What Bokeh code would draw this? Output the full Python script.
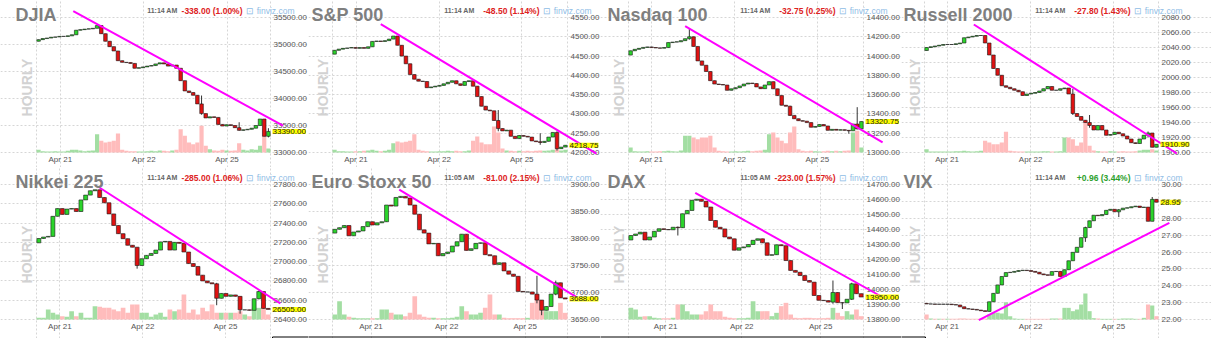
import math
from bokeh.plotting import figure
from bokeh.layouts import column, row
from bokeh.models import (Range1d, FixedTicker, NumeralTickFormatter, Label, Arrow,
                          BoxAnnotation, ColumnDataSource)
from bokeh.embed import file_html
from bokeh.resources import INLINE

# ---------------- data ----------------
day_labels = ["Apr 21", "Apr 22", "Apr 25"]

djia_open0 = 35060
djia_close = [35090, 35110, 35120, 35135, 35140, 35150, 35150, 35160, 35180, 35265,
              35275, 35285, 35290, 35300, 35350, 35200, 35060, 34960, 34880, 34700,
              34670, 34665, 34650, 34560, 34570, 34585, 34600, 34610, 34640, 34660,
              34640, 34600, 34620, 34560, 34330, 34140, 34110, 34060, 33900, 33720,
              33640, 33660, 33650, 33520, 33490, 33515, 33500, 33460, 33410, 33420,
              33430, 33450, 33500, 33620, 33300, 33390]
djia_volume = [8, 4, 3, 3, 4, 3, 3, 5, 8, 8,
               6, 4, 5, 6, 55, 35, 30, 32, 35, 57,
               8, 5, 4, 4, 3, 3, 4, 5, 4, 6,
               5, 4, 6, 8, 70, 50, 30, 25, 30, 80,
               20, 10, 6, 5, 8, 6, 5, 6, 28, 8,
               6, 10, 8, 20, 70, 12]
djia_wicks = {39: (34055, 33700), 48: (33560, 33405), 55: (33450, 33280)}
djia_days = [5.2, 25.2, 45.1]
djia_yticks = [33000, 33500, 34000, 34500, 35000, 35500]
djia_trend = [(8.3, 35618), (58.5, 33496)]

sp_open0 = 4455
sp_close = [4465, 4468, 4470, 4471, 4472, 4470, 4472, 4470, 4474, 4488,
            4489, 4488, 4490, 4494, 4502, 4478, 4450, 4430, 4402, 4390,
            4385, 4384, 4368, 4370, 4372, 4374, 4378, 4382, 4386, 4378,
            4374, 4384, 4386, 4372, 4345, 4320, 4310, 4308, 4283, 4262,
            4256, 4258, 4242, 4236, 4244, 4242, 4240, 4230, 4228, 4226,
            4229, 4240, 4252, 4210, 4214, 4218.75]
sp_volume = [8, 4, 4, 3, 3, 4, 4, 5, 6, 8,
             5, 4, 5, 8, 28, 33, 30, 32, 35, 55,
             8, 5, 4, 3, 3, 4, 4, 5, 4, 5,
             4, 4, 6, 35, 48, 30, 25, 25, 78, 60,
             12, 6, 5, 4, 5, 4, 5, 4, 5, 6,
             5, 6, 8, 10, 6, 8]
sp_wicks = {39: (4310, 4255), 49: (4250, 4220), 53: (4255, 4205)}
sp_days = [5.1, 24.9, 44.6]
sp_yticks = [4200, 4250, 4300, 4350, 4400, 4450, 4500, 4550]
sp_trend = [(11.0, 4533), (62.4, 4197)]

nq_open0 = 14010
nq_close = [14055, 14070, 14080, 14090, 14095, 14088, 14085, 14082, 14088, 14140,
            14145, 14148, 14160, 14180, 14200, 14100, 13950, 13905, 13840, 13745,
            13710, 13705, 13700, 13645, 13660, 13672, 13690, 13710, 13720, 13715,
            13680, 13662, 13700, 13735, 13660, 13590, 13490, 13480, 13385, 13350,
            13330, 13325, 13310, 13262, 13270, 13290, 13275, 13230, 13240, 13232,
            13236, 13230, 13225, 13295, 13245, 13320.75]
nq_volume = [15, 4, 3, 3, 4, 3, 3, 4, 4, 5,
             4, 3, 6, 50, 50, 45, 40, 45, 45, 50,
             15, 5, 4, 3, 3, 4, 3, 4, 5, 4,
             5, 6, 8, 55, 60, 45, 35, 28, 60, 78,
             10, 5, 4, 5, 4, 3, 4, 5, 4, 5,
             4, 5, 6, 60, 65, 15]
nq_wicks = {14: (14285, 14170), 38: (13485, 13380), 52: (13230, 13195), 54: (13470, 13240)}
nq_days = [4.9, 24.7, 44.5]
nq_yticks = [13000, 13200, 13400, 13600, 13800, 14000, 14200, 14400]
nq_trend = [(13.0, 14310), (60.05, 13105)]

rut_open0 = 2036
rut_close = [2040, 2041, 2042, 2043, 2044, 2044, 2044, 2045, 2046, 2053,
             2054, 2055, 2056, 2056, 2046, 2030, 2012, 2003, 1989, 1987,
             1985, 1983, 1981, 1976, 1978, 1979, 1980, 1982, 1985, 1988,
             1983, 1983, 1985, 1986, 1978, 1952, 1948, 1943, 1940, 1936,
             1930, 1936, 1930, 1923, 1924, 1927, 1925, 1922, 1918, 1913,
             1912, 1918, 1923, 1926, 1907, 1910.90]
rut_volume = [10, 3, 3, 3, 3, 3, 3, 4, 4, 5,
              4, 3, 4, 5, 35, 30, 25, 25, 30, 62,
              5, 4, 3, 3, 3, 3, 3, 3, 4, 4,
              3, 3, 4, 45, 45, 40, 20, 30, 90, 20,
              6, 4, 3, 3, 4, 3, 3, 4, 3, 3,
              4, 6, 8, 8, 10, 6]
rut_wicks = {35: (1985, 1950), 39: (1950, 1933), 53: (1928, 1920)}
rut_days = [4.9, 24.9, 44.7]
rut_yticks = [1900, 1920, 1940, 1960, 1980, 2000, 2020, 2040, 2060, 2080]
rut_trend = [(11.3, 2070.7), (59.9, 1898.7)]

nikkei_open0 = 27195
nikkei_close = [27240, 27255, 27262, 27470, 27550, 27490, 27545, 27550, 27520, 27640,
                27690, 27735, 27745, 27665, 27610, 27495, 27375, 27290, 27238, 27170,
                27150, 26960, 27030, 27065, 27085, 27120, 27205, 27210, 27120, 27200,
                27190, 27100, 26980, 26950, 26860, 26800, 26780, 26770, 26620, 26670,
                26640, 26655, 26640, 26500, 26500, 26495, 26615, 26690, 26515, 26505]
nikkei_volume = [5, 5, 30, 20, 15, 10, 8, 25, 10, 20,
                 5, 5, 40, 38, 35, 35, 30, 25, 35, 20,
                 45, 45, 20, 20, 8, 15, 20, 8, 30, 25,
                 30, 75, 20, 30, 15, 35, 25, 45, 20, 20,
                 20, 20, 20, 25, 15, 10, 35, 35, 50, 15]
nikkei_wicks = {21: (27150, 26927), 38: (26780, 26548), 43: (26640, 26460), 47: (26700, 26610)}
nikkei_days = [4.5, 22.2, 39.9]
nikkei_yticks = [26400, 26600, 26800, 27000, 27200, 27400, 27600, 27800]
nikkei_trend = [(13.0, 27766), (51.6, 26566)]

stoxx_open0 = 3810
stoxx_close = [3817, 3820, 3824, 3805, 3812, 3814, 3822, 3831, 3825, 3829,
               3831, 3862, 3860, 3876, 3878, 3875, 3862, 3845, 3816, 3810,
               3790, 3791, 3768, 3772, 3775, 3786, 3794, 3808, 3778, 3781,
               3791, 3792, 3770, 3768, 3752, 3755, 3740, 3734, 3730, 3702,
               3701, 3701, 3697, 3686, 3667, 3674, 3697, 3718, 3690, 3688]
stoxx_volume = [15, 55, 15, 8, 5, 4, 4, 4, 4, 4,
                30, 30, 20, 15, 15, 10, 20, 70, 15, 8,
                5, 5, 4, 4, 4, 5, 8, 40, 25, 15,
                15, 20, 35, 75, 15, 15, 5, 4, 4, 4,
                4, 5, 50, 75, 25, 25, 25, 25, 50, 20]
stoxx_wicks = {43: (3731, 3680), 44: (3686, 3658), 47: (3722, 3695)}
stoxx_days = [7.7, 23.8, 40.5]
stoxx_yticks = [3650, 3700, 3750, 3800, 3850, 3900]
stoxx_trend = [(13.7, 3890.7), (52.3, 3687)]

dax_open0 = 14330
dax_close = [14360, 14370, 14382, 14330, 14350, 14388, 14405, 14400, 14398, 14415,
             14412, 14505, 14527, 14595, 14602, 14588, 14550, 14460, 14415, 14404,
             14350, 14338, 14262, 14278, 14284, 14300, 14328, 14338, 14311, 14228,
             14232, 14298, 14292, 14193, 14127, 14115, 14093, 14060, 14049, 13960,
             13928, 13926, 13916, 13980, 13912, 13911, 13935, 14038, 13972, 13950]
dax_volume = [35, 30, 8, 10, 10, 5, 4, 4, 4, 5,
              45, 45, 25, 15, 15, 15, 25, 45, 25, 25,
              8, 5, 4, 4, 4, 5, 55, 25, 25, 25,
              10, 20, 40, 50, 15, 5, 4, 5, 5, 4,
              4, 4, 5, 35, 20, 10, 25, 15, 30, 10]
dax_wicks = {10: (14420, 14360), 43: (14060, 13905), 45: (13915, 13870), 47: (14045, 13930)}
dax_days = [7.4, 23.6, 40.4]
dax_yticks = [13800, 13900, 14000, 14100, 14200, 14300, 14400, 14500, 14600, 14700]
dax_trend = [(13.7, 14644), (52.9, 13960)]

vix_open0 = 22.95
vix_close = [22.92, 22.92, 22.90, 22.91, 22.90, 22.91, 22.88, 22.86, 22.75, 22.64,
             22.62, 22.60, 22.56, 22.52, 22.48, 23.05, 23.55, 24.05, 24.55, 24.78,
             24.80, 24.85, 24.90, 24.92, 24.90, 24.85, 24.80, 24.70, 24.65, 24.62,
             24.84, 24.85, 24.55, 24.95, 25.48, 25.98, 26.28, 26.85, 27.45, 27.85,
             28.18, 28.15, 28.22, 28.47, 28.53, 28.38, 28.50, 28.60, 28.62, 28.68,
             28.72, 28.64, 28.66, 27.82, 29.12, 28.95]
vix_volume = [15, 3, 2, 2, 2, 2, 2, 2, 3, 3,
              2, 2, 2, 2, 3, 15, 20, 20, 18, 52,
              10, 3, 2, 2, 2, 2, 2, 2, 2, 2,
              3, 3, 3, 35, 35, 25, 30, 45, 78, 25,
              4, 3, 2, 2, 2, 2, 2, 3, 3, 3,
              2, 2, 5, 45, 42, 10]
vix_wicks = {38: (27.5, 26.6), 46: (28.55, 28.07), 54: (29.26, 27.82)}
vix_days = [4.9, 24.9, 44.7]
vix_yticks = [22, 23, 24, 25, 26, 27, 28, 29, 30]
vix_trend = [(12.5, 21.96), (58.1, 27.73)]

panel_names = ["DJIA", "S&P 500", "Nasdaq 100", "Russell 2000",
               "Nikkei 225", "Euro Stoxx 50", "DAX", "VIX"]
update_times = ["11:14 AM", "11:14 AM", "11:14 AM", "11:14 AM",
                "11:14 AM", "11:05 AM", "11:05 AM", "11:14 AM"]
change_texts = ["-338.00 (1.00%)", "-48.50 (1.14%)", "-32.75 (0.25%)", "-27.80 (1.43%)",
                "-285.00 (1.06%)", "-81.00 (2.15%)", "-223.00 (1.57%)", "+0.96 (3.44%)"]
last_texts = ["33390.00", "4218.75", "13320.75", "1910.90",
              "26505.00", "3688.00", "13950.00", "28.95"]

# ---------------- layout / styling ----------------
FONT = "Liberation Sans"
COL_W = [308, 292, 301, 310]                                # canvas widths of the 4 columns
COL_X0 = [0, 308, 600, 901]                                 # canvas left edges in the page
COL_PLOT = [(36, 270), (24, 259), (28, 263), (23, 257)]     # plot area (left, right) per canvas
ROW_H = [167, 171]
PLOT_T, PLOT_B = 17, 152                # plot area top/bottom in each canvas
VOL_SPAN = 405.0
BOX_X0, BOX_X1, BOX_Y = 272, 925, 169   # framed box peeking in at the bottom (lower row)
GREEN, RED = "#2bd42b", "#e01212"
VGREEN, VRED = "#a3dea3", "#ffbcbc"
GRID = "#d6d6d6"


def panel(k, open0, closes, vols, wicks, days, yticks, trend):
    col, rw = k % 4, k // 4
    W, H = COL_W[col], ROW_H[rw]
    L, R = COL_PLOT[col]
    n = len(closes)
    opens = [open0] + list(closes[:-1])
    highs = [max(o, c) for o, c in zip(opens, closes)]
    lows = [min(o, c) for o, c in zip(opens, closes)]
    for i, (h, l) in wicks.items():
        highs[i] = max(highs[i], h)
        lows[i] = min(lows[i], l)
    up = [c >= o for o, c in zip(opens, closes)]
    src = ColumnDataSource(dict(
        x=list(range(n)),
        bt=[max(o, c) for o, c in zip(opens, closes)],
        bb=[min(o, c) for o, c in zip(opens, closes)],
        h=highs, l=lows, v=vols[:n],
        cc=[GREEN if u else RED for u in up],
        vc=[VGREEN if u else VRED for u in up],
    ))
    ymin, ymax = yticks[0], yticks[-1]
    ux = (R - L) / n                       # px per candle
    uy = (PLOT_B - PLOT_T) / (ymax - ymin)  # px per price unit
    uv = (PLOT_B - PLOT_T) / VOL_SPAN
    x_rng = Range1d(-0.5 - L / ux, n - 0.5 + (W - R) / ux)
    y_rng = Range1d(ymin - (H - PLOT_B) / uy, ymax + PLOT_T / uy)

    p = figure(width=W, height=H, x_range=x_rng, y_range=y_rng,
               y_axis_location="right", output_backend="svg",
               toolbar_location=None, tools="", min_border=0,
               background_fill_color="white", border_fill_color="white")
    p.title.visible = False
    p.outline_line_color = None
    p.extra_y_ranges = {"vol": Range1d(-(H - PLOT_B) / uv, VOL_SPAN + PLOT_T / uv)}

    # axes pinned to the plot-area edges
    yax = p.yaxis[0]
    yax.fixed_location = n - 0.5
    yax.ticker = FixedTicker(ticks=yticks)
    yax.formatter = NumeralTickFormatter(format="0.00")
    xax = p.xaxis[0]
    xax.fixed_location = ymin
    xax.ticker = FixedTicker(ticks=days)
    xax.major_label_overrides = {d: lab for d, lab in zip(days, day_labels)}
    for ax, st in ((yax, 3), (xax, 2)):
        ax.axis_line_color = None
        ax.major_tick_line_color = None
        ax.minor_tick_line_color = None
        ax.major_tick_out = 0
        ax.major_tick_in = 0
        ax.minor_tick_out = 0
        ax.major_label_standoff = st
        ax.major_label_text_font = FONT
        ax.major_label_text_font_size = "8px"
        ax.major_label_text_color = "#555555"

    p.xgrid.ticker = FixedTicker(ticks=[-0.5] + list(days) + [n - 0.5])
    p.xgrid.bounds = (ymin, ymax)
    p.ygrid.ticker = FixedTicker(ticks=yticks)
    p.ygrid.bounds = (-0.5, n - 0.5)
    p.grid.grid_line_color = GRID
    p.grid.grid_line_dash = "2 2"

    p.vbar(x="x", width=1.0, top="v", bottom=0, y_range_name="vol",
           fill_color="vc", line_color=None, source=src)
    p.segment(x0="x", y0="h", x1="x", y1="l", line_color="#333333",
              line_width=1, source=src)
    p.vbar(x="x", width=0.85, top="bt", bottom="bb", fill_color="cc",
           line_color="#1a1a1a", line_width=0.6, source=src)

    p.add_layout(Arrow(end=None, x_start=trend[0][0], y_start=trend[0][1],
                       x_end=trend[1][0], y_end=trend[1][1],
                       line_color="#ff00ff", line_width=2))

    def lab(**kw):
        base = dict(x_units="screen", y_units="screen", text_font=FONT,
                    text_baseline="middle")
        base.update(kw)
        p.add_layout(Label(**base))

    lab(x=L - 21, y=H - 14.3, text=panel_names[k], text_font_size="18px",
        text_font_style="bold", text_color="#7f7f7f", text_align="left")
    lab(x=L - 10, y=H - 87, text="HOURLY", angle=math.pi / 2, text_font_size="14px",
        text_font_style="bold", text_color="#d2d2d2", text_align="center")
    lab(x=R - 93, y=H - 10, text=update_times[k], text_font_size="7px",
        text_font_style="bold", text_color="#666666", text_align="right")
    ch = change_texts[k]
    lab(x=R - 28, y=H - 10, text=ch, text_font_size="8.5px", text_font_style="bold",
        text_color="#2ca02c" if ch.startswith("+") else "#dd2222", text_align="right")
    lab(x=R + 24, y=H - 10, text="\u22a1 finviz.com", text_font_size="8.5px",
        text_color="#8fbde6", text_align="right")
    p.add_layout(Label(x=R + 2, y=closes[-1], x_units="screen", y_units="data",
                       text=last_texts[k], text_font=FONT, text_font_size="8px",
                       text_color="#222222", text_baseline="middle",
                       text_align="left", background_fill_color="#ffff00"))

    # top edge of the framed box peeking in under the lower row (positioned in px)
    if rw == 1:
        x0_px = max(BOX_X0 - COL_X0[col], -5)
        x1_px = min(BOX_X1 - COL_X0[col], W + 5)
        if x1_px > 0 and x0_px < W:
            to_x = lambda px: -0.5 + (px - L) / ux
            to_y = lambda py: ymin - (py - PLOT_B) / uy
            p.add_layout(BoxAnnotation(left=to_x(x0_px), right=to_x(x1_px),
                                       top=to_y(BOX_Y + 0.5), bottom=to_y(H + 6),
                                       fill_color=None, fill_alpha=0,
                                       line_color="#000000", line_width=1,
                                       line_alpha=1))
    return p


specs = [
    (djia_open0, djia_close, djia_volume, djia_wicks, djia_days, djia_yticks, djia_trend),
    (sp_open0, sp_close, sp_volume, sp_wicks, sp_days, sp_yticks, sp_trend),
    (nq_open0, nq_close, nq_volume, nq_wicks, nq_days, nq_yticks, nq_trend),
    (rut_open0, rut_close, rut_volume, rut_wicks, rut_days, rut_yticks, rut_trend),
    (nikkei_open0, nikkei_close, nikkei_volume, nikkei_wicks, nikkei_days, nikkei_yticks, nikkei_trend),
    (stoxx_open0, stoxx_close, stoxx_volume, stoxx_wicks, stoxx_days, stoxx_yticks, stoxx_trend),
    (dax_open0, dax_close, dax_volume, dax_wicks, dax_days, dax_yticks, dax_trend),
    (vix_open0, vix_close, vix_volume, vix_wicks, vix_days, vix_yticks, vix_trend),
]

figs = [panel(k, *s) for k, s in enumerate(specs)]
layout = column(row(*figs[:4]), row(*figs[4:]))
open("out.html", "w").write(file_html(layout, INLINE, "finviz hourly"))
